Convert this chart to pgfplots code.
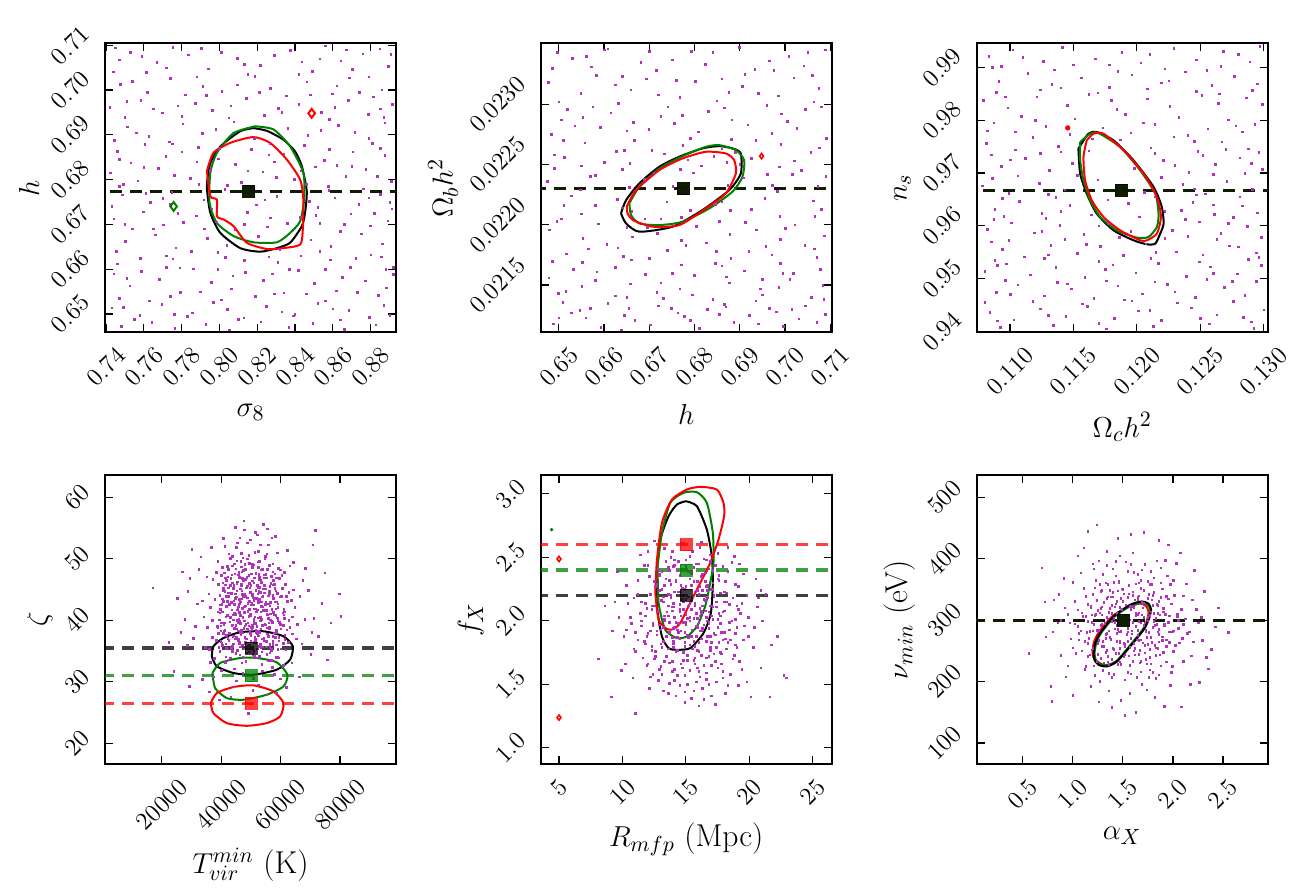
\documentclass[border=0pt]{standalone}
\usepackage{pgfplots}
\pgfplotsset{compat=1.18}
\usepackage{graphicx}
\definecolor{dotc}{RGB}{178,50,190}
\definecolor{mgreen}{RGB}{0,128,0}
\newcommand{\tlfont}{\fontsize{12.3}{14.8}\selectfont}
\protected\def\R#1{\rotatebox{45}{\tlfont #1}}
\pgfplotsset{
 panel/.style={
   scale only axis, width=145.5pt, height=144.4pt, anchor=south west,
   axis line style={line width=1pt},
   tick align=inside, major tick length=4pt,
   every tick/.style={black, line width=0.6pt},
   scaled ticks=false,
   xticklabel style={anchor=north, inner sep=0pt, yshift=-6.5pt, font=\tlfont},
   yticklabel style={anchor=east, inner sep=0pt, xshift=-6.5pt, font=\tlfont},
   xlabel style={font=\fontsize{15.8}{19}\selectfont, inner sep=0pt, outer sep=0pt, yshift=-8pt},
   ylabel style={font=\fontsize{15.8}{19}\selectfont, inner sep=0pt, outer sep=5pt},
 },
 dots/.style={only marks, mark=square*, mark size=0.4pt, color=dotc, mark options={line width=0.2pt}},
 cont/.style={line width=1pt, mark=none, smooth, tension=0.4},
 fid/.style={dash pattern=on 6pt off 4pt, line width=1.6pt, opacity=0.75, mark=none},
 sq/.style={only marks, mark=square*, mark size=3pt, opacity=0.75, mark options={line width=0.3pt}},
}
\begin{document}
\begin{tikzpicture}
\useasboundingbox (0,0) rectangle (654pt,444.5pt);
% ---------------- Panel 1 ----------------
\begin{axis}[panel, at={(52.5pt,278.35pt)},
  xmin=0.7395, xmax=0.8934, ymin=0.6459, ymax=0.7104,
  xtick={0.74,0.76,0.78,0.80,0.82,0.84,0.86,0.88},
  xticklabels={\R{0.74},\R{0.76},\R{0.78},\R{0.80},\R{0.82},\R{0.84},\R{0.86},\R{0.88}},
  ytick={0.65,0.66,0.67,0.68,0.69,0.70,0.71},
  yticklabels={\R{0.65},\R{0.66},\R{0.67},\R{0.68},\R{0.69},\R{0.70},\R{0.71}},
  xlabel={$\sigma_8$}, ylabel={$h$}]
\addplot[dots] table[row sep=\\] {x y\\
0.7437 0.7041\\ 0.7528 0.7085\\ 0.7669 0.7062\\ 0.7834 0.7079\\ 0.7941 0.7048\\ 0.8093 0.7071\\ 0.8217 0.7055\\ 0.8376 0.7089\\ 0.8492 0.7042\\ 0.8641 0.7066\\ 0.8758 0.7081\\ 0.8893 0.7053\\ 0.7752 0.7096\\ 0.8561 0.7099\\
0.7476 0.7013\\ 0.7618 0.6995\\ 0.7739 0.7026\\ 0.7911 0.7008\\ 0.8012 0.6998\\ 0.8187 0.7031\\ 0.8269 0.7004\\ 0.8461 0.7019\\ 0.8597 0.6992\\ 0.8688 0.7028\\ 0.8859 0.7001\\
0.7419 0.6962\\ 0.7583 0.6978\\ 0.7697 0.6949\\ 0.7872 0.6971\\ 0.7963 0.6955\\ 0.8141 0.6982\\ 0.8238 0.6944\\ 0.8419 0.6968\\ 0.8539 0.6951\\ 0.8682 0.6977\\ 0.8788 0.6946\\ 0.8914 0.6969\\
0.7511 0.6918\\ 0.7627 0.6897\\ 0.7806 0.6925\\ 0.7908 0.6904\\ 0.8075 0.6929\\ 0.8183 0.6893\\ 0.8362 0.6915\\ 0.8468 0.6899\\ 0.8627 0.6922\\ 0.8716 0.6906\\ 0.8874 0.6927\\ 0.7445 0.6888\\
0.7458 0.6864\\ 0.7604 0.6879\\ 0.7716 0.6852\\ 0.7889 0.6873\\ 0.7993 0.6847\\ 0.8168 0.6868\\ 0.8261 0.6856\\ 0.8447 0.6877\\ 0.8553 0.6843\\ 0.8704 0.6862\\ 0.8807 0.6881\\
0.7424 0.6815\\ 0.7568 0.6798\\ 0.7677 0.6826\\ 0.7846 0.6803\\ 0.7952 0.6821\\ 0.8114 0.6794\\ 0.8228 0.6818\\ 0.8397 0.6801\\ 0.8508 0.6829\\ 0.8667 0.6808\\ 0.8773 0.6823\\ 0.8908 0.6796\\
0.7487 0.6766\\ 0.7634 0.6749\\ 0.7748 0.6772\\ 0.7917 0.6755\\ 0.8027 0.6778\\ 0.8196 0.6744\\ 0.8303 0.6763\\ 0.8474 0.6752\\ 0.8578 0.6776\\ 0.8737 0.6745\\ 0.8851 0.6768\\
0.7442 0.6713\\ 0.7596 0.6728\\ 0.7704 0.6699\\ 0.7878 0.6719\\ 0.7984 0.6706\\ 0.8147 0.6727\\ 0.8254 0.6695\\ 0.8428 0.6716\\ 0.8531 0.6702\\ 0.8694 0.6724\\ 0.8796 0.6697\\ 0.8912 0.6735\\
0.7503 0.6662\\ 0.7661 0.6677\\ 0.7768 0.6648\\ 0.7934 0.6669\\ 0.8038 0.6653\\ 0.8205 0.6674\\ 0.8318 0.6645\\ 0.8482 0.6666\\ 0.8588 0.6651\\ 0.8751 0.6679\\ 0.8862 0.6657\\
0.7459 0.6612\\ 0.7587 0.6596\\ 0.7752 0.6623\\ 0.7863 0.6601\\ 0.8031 0.6627\\ 0.8137 0.6593\\ 0.8309 0.6615\\ 0.8418 0.6598\\ 0.8586 0.6621\\ 0.8693 0.6605\\ 0.8857 0.6628\\ 0.8918 0.6589\\
0.7526 0.6563\\ 0.7683 0.6578\\ 0.7792 0.6549\\ 0.7958 0.6571\\ 0.8064 0.6556\\ 0.8233 0.6575\\ 0.8341 0.6547\\ 0.8502 0.6568\\ 0.8617 0.6552\\ 0.8772 0.6574\\ 0.8881 0.6559\\
0.7431 0.6514\\ 0.7579 0.6497\\ 0.7694 0.6522\\ 0.7857 0.6503\\ 0.7966 0.6526\\ 0.8128 0.6492\\ 0.8247 0.6517\\ 0.8399 0.6499\\ 0.8519 0.6524\\ 0.8683 0.6508\\ 0.8791 0.6493\\
0.7482 0.6472\\ 0.7641 0.6481\\ 0.7763 0.6468\\ 0.7927 0.6477\\ 0.8052 0.6465\\ 0.8219 0.6483\\ 0.8366 0.6470\\ 0.8493 0.6479\\ 0.8659 0.6466\\ 0.8827 0.6476\\
0.7470 0.7068\\ 0.7612 0.7040\\ 0.7905 0.7093\\ 0.8150 0.7035\\ 0.8435 0.7063\\ 0.8702 0.7047\\ 0.8847 0.7092\\
0.7540 0.7020\\ 0.7820 0.6990\\ 0.8093 0.7012\\ 0.8352 0.6987\\ 0.8620 0.7010\\ 0.8812 0.6985\\
0.7500 0.6940\\ 0.7780 0.6965\\ 0.8050 0.6938\\ 0.8310 0.6960\\ 0.8580 0.6935\\ 0.8850 0.6958\\
0.7560 0.6905\\ 0.7734 0.6885\\ 0.7980 0.6912\\ 0.8265 0.6880\\ 0.8535 0.6910\\ 0.8790 0.6892\\
0.7530 0.6838\\ 0.7800 0.6862\\ 0.8083 0.6835\\ 0.8340 0.6858\\ 0.8620 0.6832\\ 0.8875 0.6855\\
0.7490 0.6790\\ 0.7760 0.6810\\ 0.8040 0.6788\\ 0.8300 0.6806\\ 0.8575 0.6785\\ 0.8835 0.6808\\
0.7430 0.6740\\ 0.7700 0.6758\\ 0.7960 0.6735\\ 0.8240 0.6755\\ 0.8520 0.6738\\ 0.8790 0.6760\\
0.7540 0.6690\\ 0.7810 0.6705\\ 0.8080 0.6688\\ 0.8360 0.6703\\ 0.8640 0.6685\\ 0.8890 0.6708\\
0.7455 0.6640\\ 0.7720 0.6630\\ 0.7990 0.6638\\ 0.8260 0.6628\\ 0.8530 0.6640\\ 0.8800 0.6632\\
0.7510 0.6580\\ 0.7790 0.6603\\ 0.8070 0.6585\\ 0.8370 0.6600\\ 0.8650 0.6582\\ 0.8920 0.6605\\
0.7470 0.6535\\ 0.7740 0.6540\\ 0.8010 0.6532\\ 0.8290 0.6545\\ 0.8560 0.6530\\ 0.8840 0.6542\\
0.7550 0.6488\\ 0.7830 0.6495\\ 0.8100 0.6488\\ 0.8390 0.6496\\ 0.8640 0.6487\\ 0.8900 0.6497\\
0.7450 0.7095\\ 0.7590 0.7075\\ 0.7720 0.7050\\ 0.7880 0.7030\\ 0.8010 0.7085\\ 0.8130 0.7058\\ 0.8290 0.7078\\ 0.8420 0.7035\\ 0.8530 0.7070\\ 0.8670 0.7090\\ 0.8790 0.7030\\ 0.8905 0.7080\\
0.7510 0.6975\\ 0.7650 0.6958\\ 0.7800 0.6942\\ 0.7930 0.6988\\ 0.8060 0.6965\\ 0.8210 0.6995\\ 0.8330 0.6950\\ 0.8480 0.6990\\ 0.8610 0.6962\\ 0.8740 0.6995\\ 0.8870 0.6940\\
0.7470 0.6845\\ 0.7600 0.6828\\ 0.7750 0.6880\\ 0.7880 0.6840\\ 0.8000 0.6870\\ 0.8150 0.6820\\ 0.8290 0.6840\\ 0.8430 0.6820\\ 0.8580 0.6868\\ 0.8700 0.6830\\ 0.8850 0.6870\\
0.7470 0.6785\\ 0.7610 0.6770\\ 0.7740 0.6745\\ 0.7890 0.6790\\ 0.8460 0.6790\\ 0.8610 0.6760\\ 0.8760 0.6780\\ 0.8900 0.6750\\
0.7500 0.6700\\ 0.7650 0.6690\\ 0.7780 0.6725\\ 0.7920 0.6690\\ 0.8130 0.6700\\ 0.8270 0.6715\\ 0.8510 0.6720\\ 0.8660 0.6700\\ 0.8820 0.6725\\
0.7440 0.6590\\ 0.7580 0.6625\\ 0.7720 0.6605\\ 0.7850 0.6640\\ 0.7990 0.6600\\ 0.8130 0.6620\\ 0.8280 0.6590\\ 0.8430 0.6630\\ 0.8560 0.6600\\ 0.8720 0.6625\\ 0.8880 0.6600\\
0.7490 0.6515\\ 0.7630 0.6530\\ 0.7760 0.6500\\ 0.7900 0.6550\\ 0.8040 0.6510\\ 0.8190 0.6540\\ 0.8330 0.6505\\ 0.8460 0.6545\\ 0.8600 0.6512\\ 0.8730 0.6548\\ 0.8870 0.6520\\
};
\addplot[fid, red] coordinates {(0.70,0.6774) (0.90,0.6774)};
\addplot[fid, mgreen] coordinates {(0.70,0.6774) (0.90,0.6774)};
\addplot[fid, black] coordinates {(0.70,0.6774) (0.90,0.6774)};
\addplot[cont, black] coordinates {(0.8180,0.6915)(0.8251,0.6909)(0.8339,0.6889)(0.8400,0.6863)(0.8436,0.6830)(0.8462,0.6774)(0.8453,0.6726)(0.8436,0.6696)(0.8374,0.6659)(0.8304,0.6647)(0.8216,0.6639)(0.8110,0.6647)(0.8005,0.6681)(0.7952,0.6726)(0.7934,0.6785)(0.7952,0.6837)(0.8005,0.6874)(0.8110,0.6908)(0.8180,0.6915)};
\addplot[cont, mgreen] coordinates {(0.8189,0.6919)(0.8286,0.6912)(0.8374,0.6874)(0.8444,0.6815)(0.8448,0.6755)(0.8427,0.6707)(0.8374,0.6681)(0.8304,0.6660)(0.8180,0.6660)(0.8075,0.6674)(0.7987,0.6703)(0.7948,0.6748)(0.7952,0.6815)(0.7987,0.6860)(0.8075,0.6904)(0.8189,0.6919)};
\addplot[cont, red] coordinates {(0.7934,0.6819)(0.7969,0.6860)(0.8057,0.6882)(0.8180,0.6895)(0.8268,0.6882)(0.8356,0.6845)(0.8427,0.6800)(0.8444,0.6755)(0.8441,0.6688)(0.8427,0.6655)(0.8339,0.6647)(0.8251,0.6645)(0.8145,0.6659)(0.8075,0.6696)(0.8022,0.6711)(0.7987,0.6718)(0.7987,0.6755)(0.7952,0.6763)(0.7934,0.6819)};
\addplot[sq, red] coordinates {(0.8154,0.6774)};
\addplot[sq, mgreen] coordinates {(0.8154,0.6774)};
\addplot[sq, black] coordinates {(0.8154,0.6774)};
\addplot[only marks, mark=diamond, mark size=2.2pt, red, mark options={line width=1pt}] coordinates {(0.8488,0.6948)};
\addplot[only marks, mark=diamond, mark size=2.2pt, mgreen, mark options={line width=1pt}] coordinates {(0.7758,0.6740)};
\end{axis}
% ---------------- Panel 2 ----------------
\begin{axis}[panel, at={(270.35pt,278.35pt)},
  xmin=0.6460, xmax=0.7103, ymin=0.021108, ymax=0.023503,
  xtick={0.65,0.66,0.67,0.68,0.69,0.70,0.71},
  xticklabels={\R{0.65},\R{0.66},\R{0.67},\R{0.68},\R{0.69},\R{0.70},\R{0.71}},
  ytick={0.0215,0.0220,0.0225,0.0230},
  yticklabels={\R{0.0215},\R{0.0220},\R{0.0225},\R{0.0230}},
  xlabel={$h$}, ylabel={$\Omega_b h^2$}]
\addplot[dots] table[row sep=\\] {x y\\
0.6496 0.02343\\ 0.6572 0.02331\\ 0.6608 0.02346\\ 0.6681 0.02335\\ 0.6715 0.02328\\ 0.6793 0.02344\\ 0.6824 0.02333\\ 0.6899 0.02347\\ 0.6933 0.02329\\ 0.7008 0.02340\\ 0.7041 0.02332\\ 0.7088 0.02345\\
0.6477 0.02318\\ 0.6548 0.02309\\ 0.6583 0.02324\\ 0.6659 0.02312\\ 0.6693 0.02321\\ 0.6767 0.02306\\ 0.6801 0.02319\\ 0.6875 0.02310\\ 0.6911 0.02325\\ 0.6985 0.02307\\ 0.7019 0.02322\\ 0.7074 0.02313\\
0.6518 0.02296\\ 0.6553 0.02289\\ 0.6631 0.02301\\ 0.6664 0.02285\\ 0.6741 0.02298\\ 0.6773 0.02291\\ 0.6849 0.02303\\ 0.6882 0.02287\\ 0.6959 0.02299\\ 0.6991 0.02292\\ 0.7063 0.02302\\
0.6483 0.02275\\ 0.6557 0.02268\\ 0.6592 0.02281\\ 0.6666 0.02270\\ 0.6699 0.02279\\ 0.6774 0.02266\\ 0.6808 0.02277\\ 0.6881 0.02271\\ 0.6917 0.02283\\ 0.6990 0.02267\\ 0.7026 0.02280\\ 0.7091 0.02272\\
0.6512 0.02256\\ 0.6549 0.02249\\ 0.6627 0.02261\\ 0.6657 0.02251\\ 0.6733 0.02259\\ 0.6768 0.02246\\ 0.6842 0.02257\\ 0.6871 0.02252\\ 0.6987 0.02248\\ 0.7057 0.02260\\
0.6475 0.02236\\ 0.6547 0.02229\\ 0.6581 0.02241\\ 0.6656 0.02231\\ 0.6689 0.02238\\ 0.6766 0.02227\\ 0.6797 0.02243\\ 0.6873 0.02233\\ 0.6908 0.02239\\ 0.6983 0.02228\\ 0.7016 0.02242\\ 0.7072 0.02232\\
0.6511 0.02216\\ 0.6550 0.02209\\ 0.6629 0.02221\\ 0.6661 0.02211\\ 0.6738 0.02219\\ 0.6770 0.02206\\ 0.6846 0.02217\\ 0.6879 0.02212\\ 0.6955 0.02222\\ 0.6988 0.02207\\ 0.7062 0.02220\\
0.6479 0.02196\\ 0.6553 0.02189\\ 0.6587 0.02201\\ 0.6662 0.02190\\ 0.6695 0.02198\\ 0.6771 0.02187\\ 0.6803 0.02199\\ 0.6878 0.02192\\ 0.6912 0.02202\\ 0.6989 0.02188\\ 0.7021 0.02200\\ 0.7087 0.02191\\
0.6516 0.02176\\ 0.6552 0.02169\\ 0.6630 0.02181\\ 0.6660 0.02171\\ 0.6739 0.02179\\ 0.6771 0.02167\\ 0.6848 0.02178\\ 0.6880 0.02172\\ 0.6957 0.02182\\ 0.6989 0.02168\\ 0.7064 0.02180\\
0.6478 0.02156\\ 0.6551 0.02149\\ 0.6584 0.02161\\ 0.6658 0.02151\\ 0.6691 0.02159\\ 0.6767 0.02147\\ 0.6799 0.02158\\ 0.6876 0.02152\\ 0.6910 0.02162\\ 0.6986 0.02148\\ 0.7018 0.02160\\ 0.7083 0.02150\\
0.6509 0.02136\\ 0.6546 0.02129\\ 0.6624 0.02141\\ 0.6654 0.02131\\ 0.6731 0.02139\\ 0.6763 0.02127\\ 0.6840 0.02138\\ 0.6869 0.02132\\ 0.6949 0.02142\\ 0.6981 0.02128\\ 0.7058 0.02140\\
0.6488 0.02118\\ 0.6559 0.02123\\ 0.6593 0.02115\\ 0.6668 0.02121\\ 0.6702 0.02117\\ 0.6777 0.02124\\ 0.6810 0.02114\\ 0.6886 0.02119\\ 0.6921 0.02125\\ 0.6996 0.02116\\ 0.7030 0.02122\\
0.6530 0.02338\\ 0.6640 0.02323\\ 0.6750 0.02337\\ 0.6860 0.02321\\ 0.6965 0.02336\\ 0.7060 0.02324\\
0.6500 0.02302\\ 0.6615 0.02293\\ 0.6720 0.02308\\ 0.6830 0.02294\\ 0.6940 0.02309\\ 0.7045 0.02296\\
0.6535 0.02282\\ 0.6645 0.02262\\ 0.6755 0.02284\\ 0.6860 0.02263\\ 0.6970 0.02276\\ 0.7075 0.02264\\
0.6490 0.02247\\ 0.6600 0.02252\\ 0.6710 0.02243\\ 0.6815 0.02249\\ 0.6925 0.02255\\ 0.7035 0.02245\\
0.6528 0.02224\\ 0.6640 0.02214\\ 0.6752 0.02232\\ 0.6860 0.02219\\ 0.6972 0.02233\\ 0.7080 0.02213\\
0.6495 0.02203\\ 0.6606 0.02184\\ 0.6718 0.02193\\ 0.6826 0.02185\\ 0.6936 0.02196\\ 0.7043 0.02183\\
0.6532 0.02163\\ 0.6642 0.02174\\ 0.6750 0.02160\\ 0.6860 0.02166\\ 0.6970 0.02175\\ 0.7078 0.02163\\
0.6498 0.02143\\ 0.6608 0.02135\\ 0.6716 0.02144\\ 0.6828 0.02130\\ 0.6935 0.02137\\ 0.7044 0.02133\\
0.6527 0.02127\\ 0.6638 0.02113\\ 0.6748 0.02131\\ 0.6855 0.02126\\ 0.6965 0.02131\\ 0.7070 0.02119\\
0.6510 0.02270\\ 0.6690 0.02205\\ 0.6900 0.02250\\ 0.6600 0.02345\\ 0.6950 0.02155\\
0.6485 0.02330\\ 0.6560 0.02340\\ 0.6625 0.02316\\ 0.6700 0.02344\\ 0.6760 0.02320\\ 0.6840 0.02343\\ 0.6905 0.02315\\ 0.6975 0.02328\\ 0.7050 0.02343\\
0.6505 0.02287\\ 0.6575 0.02298\\ 0.6650 0.02278\\ 0.6725 0.02290\\ 0.6790 0.02272\\ 0.6865 0.02297\\ 0.6935 0.02270\\ 0.7005 0.02286\\ 0.7080 0.02298\\
0.6490 0.02258\\ 0.6570 0.02240\\ 0.6640 0.02246\\ 0.6705 0.02262\\ 0.6785 0.02254\\ 0.6890 0.02260\\ 0.6960 0.02242\\ 0.7020 0.02253\\ 0.7090 0.02240\\
0.6505 0.02205\\ 0.6580 0.02216\\ 0.6650 0.02198\\ 0.6725 0.02205\\ 0.6790 0.02212\\ 0.6855 0.02203\\ 0.6925 0.02213\\ 0.7000 0.02197\\ 0.7065 0.02207\\
0.6485 0.02170\\ 0.6565 0.02180\\ 0.6625 0.02165\\ 0.6700 0.02172\\ 0.6780 0.02183\\ 0.6845 0.02168\\ 0.6920 0.02178\\ 0.6995 0.02160\\ 0.7070 0.02173\\
0.6515 0.02145\\ 0.6580 0.02154\\ 0.6650 0.02140\\ 0.6725 0.02152\\ 0.6795 0.02142\\ 0.6870 0.02157\\ 0.6945 0.02147\\ 0.7010 0.02155\\ 0.7085 0.02138\\
0.6500 0.02123\\ 0.6570 0.02131\\ 0.6645 0.02125\\ 0.6720 0.02133\\ 0.6790 0.02121\\ 0.6865 0.02134\\ 0.6940 0.02118\\ 0.7015 0.02130\\ 0.7088 0.02126\\
};
\addplot[fid, red] coordinates {(0.64,0.02230) (0.72,0.02230)};
\addplot[fid, mgreen] coordinates {(0.64,0.02230) (0.72,0.02230)};
\addplot[fid, black] coordinates {(0.64,0.02230) (0.72,0.02230)};
\addplot[cont, black] coordinates {(0.66375,0.022094)(0.66486,0.022011)(0.66780,0.021942)(0.67515,0.021984)(0.68176,0.022122)(0.68764,0.022287)(0.69021,0.022425)(0.69021,0.022591)(0.68838,0.022633)(0.68544,0.022652)(0.68176,0.022633)(0.67662,0.022564)(0.67221,0.022481)(0.66780,0.022343)(0.66486,0.022204)(0.66375,0.022094)};
\addplot[cont, mgreen] coordinates {(0.66559,0.022177)(0.66780,0.022315)(0.67221,0.022467)(0.67735,0.022569)(0.68250,0.022646)(0.68544,0.022660)(0.68911,0.022619)(0.69095,0.022536)(0.69058,0.022398)(0.68838,0.022274)(0.68323,0.022135)(0.67735,0.022025)(0.67221,0.021997)(0.66780,0.022011)(0.66596,0.022080)(0.66559,0.022177)};
\addplot[cont, red] coordinates {(0.66500,0.022149)(0.66706,0.022287)(0.67221,0.022453)(0.67735,0.022550)(0.68250,0.022605)(0.68691,0.022591)(0.68874,0.022536)(0.68911,0.022425)(0.68691,0.022260)(0.68250,0.022135)(0.67662,0.021997)(0.67074,0.021984)(0.66633,0.022039)(0.66522,0.022094)(0.66500,0.022149)};
\addplot[sq, red] coordinates {(0.6774,0.02230)};
\addplot[sq, mgreen] coordinates {(0.6774,0.02230)};
\addplot[sq, black] coordinates {(0.6774,0.02230)};
\addplot[only marks, mark=diamond, mark size=1.3pt, red, mark options={line width=0.8pt}] coordinates {(0.6948,0.022569)};
\end{axis}
% ---------------- Panel 3 ----------------
\begin{axis}[panel, at={(488.35pt,278.35pt)},
  xmin=0.10737, xmax=0.13032, ymin=0.9398, ymax=0.99455,
  xtick={0.110,0.115,0.120,0.125,0.130},
  xticklabels={\R{0.110},\R{0.115},\R{0.120},\R{0.125},\R{0.130}},
  ytick={0.94,0.95,0.96,0.97,0.98,0.99},
  yticklabels={\R{0.94},\R{0.95},\R{0.96},\R{0.97},\R{0.98},\R{0.99}},
  xlabel={$\Omega_c h^2$}, ylabel={$n_s$}]
\addplot[dots] table[row sep=\\] {x y\\
0.1083 0.9921\\ 0.1102 0.9934\\ 0.1126 0.9912\\ 0.1141 0.9938\\ 0.1167 0.9917\\ 0.1188 0.9929\\ 0.1203 0.9909\\ 0.1229 0.9936\\ 0.1247 0.9915\\ 0.1268 0.9931\\ 0.1289 0.9911\\ 0.1297 0.9940\\
0.1091 0.9874\\ 0.1114 0.9889\\ 0.1133 0.9868\\ 0.1156 0.9881\\ 0.1178 0.9863\\ 0.1196 0.9886\\ 0.1219 0.9871\\ 0.1238 0.9892\\ 0.1259 0.9866\\ 0.1277 0.9883\\ 0.1295 0.9869\\
0.1079 0.9838\\ 0.1098 0.9824\\ 0.1121 0.9845\\ 0.1145 0.9829\\ 0.1162 0.9849\\ 0.1184 0.9821\\ 0.1208 0.9841\\ 0.1226 0.9827\\ 0.1251 0.9847\\ 0.1264 0.9832\\ 0.1286 0.9843\\
0.1087 0.9795\\ 0.1109 0.9808\\ 0.1128 0.9789\\ 0.1151 0.9803\\ 0.1173 0.9786\\ 0.1191 0.9811\\ 0.1214 0.9792\\ 0.1233 0.9806\\ 0.1256 0.9784\\ 0.1272 0.9801\\ 0.1293 0.9793\\
0.1081 0.9757\\ 0.1104 0.9744\\ 0.1118 0.9768\\ 0.1138 0.9751\\ 0.1187 0.9763\\ 0.1211 0.9748\\ 0.1229 0.9769\\ 0.1248 0.9741\\ 0.1267 0.9759\\ 0.1288 0.9746\\
0.1093 0.9713\\ 0.1112 0.9728\\ 0.1131 0.9705\\ 0.1149 0.9719\\ 0.1198 0.9709\\ 0.1221 0.9724\\ 0.1241 0.9702\\ 0.1262 0.9717\\ 0.1281 0.9729\\ 0.1299 0.9707\\
0.1078 0.9676\\ 0.1099 0.9662\\ 0.1123 0.9681\\ 0.1143 0.9668\\ 0.1169 0.9687\\ 0.1206 0.9664\\ 0.1236 0.9679\\ 0.1254 0.9661\\ 0.1271 0.9684\\ 0.1291 0.9669\\
0.1088 0.9631\\ 0.1107 0.9647\\ 0.1125 0.9624\\ 0.1147 0.9639\\ 0.1164 0.9621\\ 0.1193 0.9643\\ 0.1222 0.9628\\ 0.1244 0.9645\\ 0.1261 0.9622\\ 0.1283 0.9638\\
0.1082 0.9593\\ 0.1101 0.9606\\ 0.1119 0.9587\\ 0.1139 0.9601\\ 0.1158 0.9584\\ 0.1177 0.9605\\ 0.1228 0.9591\\ 0.1249 0.9608\\ 0.1266 0.9586\\ 0.1287 0.9599\\
0.1094 0.9556\\ 0.1111 0.9541\\ 0.1132 0.9563\\ 0.1153 0.9548\\ 0.1171 0.9561\\ 0.1189 0.9544\\ 0.1207 0.9566\\ 0.1231 0.9551\\ 0.1252 0.9545\\ 0.1273 0.9562\\ 0.1294 0.9549\\
0.1080 0.9514\\ 0.1097 0.9528\\ 0.1116 0.9507\\ 0.1136 0.9521\\ 0.1159 0.9503\\ 0.1181 0.9526\\ 0.1199 0.9511\\ 0.1217 0.9529\\ 0.1239 0.9504\\ 0.1258 0.9522\\ 0.1279 0.9509\\ 0.1298 0.9525\\
0.1089 0.9474\\ 0.1106 0.9488\\ 0.1127 0.9467\\ 0.1148 0.9481\\ 0.1166 0.9463\\ 0.1185 0.9486\\ 0.1204 0.9471\\ 0.1224 0.9489\\ 0.1246 0.9465\\ 0.1269 0.9483\\ 0.1285 0.9468\\
0.1084 0.9436\\ 0.1103 0.9422\\ 0.1124 0.9443\\ 0.1144 0.9428\\ 0.1161 0.9447\\ 0.1182 0.9425\\ 0.1201 0.9439\\ 0.1219 0.9421\\ 0.1243 0.9445\\ 0.1263 0.9431\\ 0.1284 0.9427\\ 0.1300 0.9441\\
0.1092 0.9408\\ 0.1134 0.9412\\ 0.1176 0.9405\\ 0.1213 0.9409\\ 0.1257 0.9414\\ 0.1292 0.9406\\
0.1093 0.9903\\ 0.1135 0.9896\\ 0.1178 0.9905\\ 0.1222 0.9898\\ 0.1266 0.9902\\
0.1089 0.9853\\ 0.1124 0.9858\\ 0.1169 0.9852\\ 0.1208 0.9860\\ 0.1247 0.9855\\ 0.1291 0.9857\\
0.1104 0.9778\\ 0.1147 0.9774\\ 0.1195 0.9776\\ 0.1240 0.9772\\ 0.1283 0.9778\\
0.1085 0.9735\\ 0.1124 0.9738\\ 0.1162 0.9742\\ 0.1214 0.9737\\ 0.1252 0.9734\\ 0.1296 0.9739\\
0.1106 0.9695\\ 0.1153 0.9696\\ 0.1219 0.9692\\ 0.1260 0.9698\\ 0.1281 0.9655\\
0.1094 0.9652\\ 0.1136 0.9654\\ 0.1177 0.9649\\ 0.1214 0.9655\\ 0.1247 0.9659\\
0.1087 0.9612\\ 0.1128 0.9614\\ 0.1202 0.9617\\ 0.1238 0.9612\\ 0.1276 0.9616\\
0.1099 0.9573\\ 0.1143 0.9575\\ 0.1186 0.9578\\ 0.1222 0.9576\\ 0.1263 0.9574\\ 0.1298 0.9578\\
0.1088 0.9535\\ 0.1127 0.9539\\ 0.1170 0.9533\\ 0.1211 0.9538\\ 0.1249 0.9532\\ 0.1288 0.9536\\
0.1096 0.9497\\ 0.1137 0.9493\\ 0.1176 0.9496\\ 0.1214 0.9494\\ 0.1255 0.9499\\ 0.1294 0.9495\\
0.1080 0.9455\\ 0.1118 0.9457\\ 0.1157 0.9452\\ 0.1196 0.9458\\ 0.1232 0.9454\\ 0.1276 0.9457\\
0.1086 0.9900\\ 0.1110 0.9920\\ 0.1150 0.9905\\ 0.1185 0.9893\\ 0.1210 0.9925\\ 0.1255 0.9895\\ 0.1280 0.9925\\
0.1096 0.9845\\ 0.1140 0.9862\\ 0.1180 0.9838\\ 0.1225 0.9875\\ 0.1265 0.9850\\ 0.1299 0.9830\\
0.1082 0.9780\\ 0.1120 0.9800\\ 0.1165 0.9765\\ 0.1205 0.9795\\ 0.1245 0.9760\\ 0.1278 0.9790\\
0.1100 0.9725\\ 0.1140 0.9740\\ 0.1230 0.9715\\ 0.1270 0.9745\\ 0.1290 0.9718\\
0.1086 0.9690\\ 0.1130 0.9660\\ 0.1245 0.9670\\ 0.1285 0.9700\\ 0.1260 0.9640\\
0.1095 0.9618\\ 0.1140 0.9628\\ 0.1170 0.9600\\ 0.1235 0.9630\\ 0.1272 0.9605\\ 0.1295 0.9625\\
0.1085 0.9570\\ 0.1125 0.9590\\ 0.1160 0.9565\\ 0.1195 0.9590\\ 0.1240 0.9580\\ 0.1280 0.9560\\
0.1090 0.9525\\ 0.1130 0.9545\\ 0.1175 0.9518\\ 0.1215 0.9550\\ 0.1260 0.9510\\ 0.1296 0.9540\\
0.1100 0.9470\\ 0.1145 0.9490\\ 0.1190 0.9460\\ 0.1230 0.9475\\ 0.1275 0.9495\\
0.1090 0.9420\\ 0.1130 0.9430\\ 0.1170 0.9415\\ 0.1210 0.9440\\ 0.1250 0.9425\\ 0.1290 0.9418\\
};
\addplot[fid, red] coordinates {(0.10,0.96672) (0.14,0.96672)};
\addplot[fid, mgreen] coordinates {(0.10,0.96672) (0.14,0.96672)};
\addplot[fid, black] coordinates {(0.10,0.96672) (0.14,0.96672)};
\addplot[cont, black] coordinates {(0.11539,0.97461)(0.11618,0.97745)(0.11684,0.97777)(0.11816,0.97619)(0.11974,0.97240)(0.12132,0.96735)(0.12197,0.96356)(0.12211,0.96040)(0.12184,0.95850)(0.12145,0.95661)(0.12079,0.95648)(0.11974,0.95724)(0.11816,0.95913)(0.11684,0.96229)(0.11605,0.96608)(0.11553,0.96987)(0.11539,0.97461)};
\addplot[cont, mgreen] coordinates {(0.11553,0.97587)(0.11632,0.97745)(0.11697,0.97758)(0.11868,0.97493)(0.12026,0.97051)(0.12145,0.96608)(0.12171,0.96229)(0.12158,0.95977)(0.12092,0.95787)(0.12000,0.95775)(0.11842,0.95913)(0.11711,0.96166)(0.11632,0.96482)(0.11579,0.96861)(0.11553,0.97240)(0.11553,0.97587)};
\addplot[cont, red] coordinates {(0.11605,0.97619)(0.11658,0.97745)(0.11737,0.97745)(0.11895,0.97430)(0.12053,0.96987)(0.12158,0.96545)(0.12190,0.96166)(0.12158,0.95850)(0.12079,0.95724)(0.12026,0.95724)(0.11868,0.95913)(0.11737,0.96166)(0.11645,0.96482)(0.11592,0.96861)(0.11579,0.97303)(0.11605,0.97619)};
\addplot[sq, red] coordinates {(0.11876,0.96672)};
\addplot[sq, mgreen] coordinates {(0.11876,0.96672)};
\addplot[sq, black] coordinates {(0.11876,0.96672)};
\addplot[only marks, mark=*, mark size=1.1pt, red] coordinates {(0.11455,0.97855)};
\end{axis}
% ---------------- Panel 4 ----------------
\begin{axis}[panel, at={(52.5pt,62.5pt)},
  xmin=931, xmax=98845, ymin=16.64, ymax=63.58,
  xtick={20000,40000,60000,80000},
  xticklabels={\R{20000},\R{40000},\R{60000},\R{80000}},
  ytick={20,30,40,50,60},
  yticklabels={\R{20},\R{30},\R{40},\R{50},\R{60}},
  xlabel={$T_{vir}^{min}$ (K)}, ylabel={$\zeta$}]
\addplot[dots] table[row sep=\\] {x y\\
41200 38.4\\ 43500 41.7\\ 45800 36.9\\ 47100 44.2\\ 48900 39.6\\ 50300 42.8\\ 52400 37.5\\ 54100 45.1\\ 55800 40.3\\ 57600 43.6\\ 58700 38.1\\ 42300 45.3\\ 44100 36.2\\ 46400 40.8\\ 48200 46.7\\ 49700 37.9\\ 51600 44.9\\ 53300 41.4\\ 55100 36.6\\ 56900 47.2\\ 58300 41.9\\ 42800 42.6\\ 44900 39.2\\ 46900 47.9\\ 49100 35.8\\ 50900 40.1\\ 52700 47.5\\ 54600 39.4\\ 56300 36.1\\ 57900 45.9\\ 41700 43.9\\ 43900 37.4\\ 45300 44.8\\ 47600 38.7\\ 49400 43.1\\ 51200 36.4\\ 53800 43.8\\ 55500 48.3\\ 57200 39.8\\ 59100 42.2\\ 43100 40.5\\ 45600 42.1\\ 47800 41.3\\ 50100 38.9\\ 52100 41.7\\ 54300 37.1\\ 56600 42.9\\ 48600 34.7\\ 51900 33.9\\ 46200 34.4\\ 53600 34.9\\ 44600 47.6\\ 50600 48.8\\ 47300 50.2\\ 52900 49.6\\ 49900 45.7\\ 50500 39.3\\ 48100 42.4\\ 49300 40.7\\ 51400 41.9\\ 46700 43.5\\ 53100 39.9\\
34200 40.6\\ 35800 44.3\\ 36900 37.2\\ 38400 47.8\\ 39700 42.5\\ 37600 33.8\\ 39200 35.6\\ 35300 38.9\\ 38800 49.6\\ 40100 31.9\\ 61200 40.3\\ 62800 44.6\\ 63900 37.8\\ 60400 47.3\\ 64700 42.1\\ 61700 35.2\\ 63100 48.9\\ 65600 39.4\\ 60800 32.7\\ 62300 51.4\\ 42600 50.8\\ 45100 51.9\\ 48700 52.6\\ 51300 51.1\\ 54900 50.4\\ 57400 49.2\\ 44400 32.1\\ 47200 31.4\\ 50800 30.6\\ 53900 31.8\\ 56800 33.5\\ 41300 33.2\\ 58900 34.1\\ 40600 46.1\\ 59600 46.8\\ 36300 42.1\\ 63600 43.3\\ 39900 39.1\\ 60100 38.6\\ 37200 46.7\\ 62600 36.4\\ 43800 48.9\\ 55900 52.3\\ 46300 53.4\\ 52200 53.9\\ 41900 35.4\\ 57800 31.2\\
25300 43.6\\ 27800 40.2\\ 29400 46.8\\ 30600 37.1\\ 31900 42.7\\ 28600 35.9\\ 32400 48.3\\ 30100 51.6\\ 33700 30.4\\ 26400 38.1\\ 69400 44.9\\ 71200 40.3\\ 72600 37.4\\ 68300 48.5\\ 70800 52.3\\ 67100 36.2\\ 73900 42.8\\ 74800 47.7\\ 76900 39.6\\ 79800 44.3\\ 80200 40.7\\ 75600 33.6\\ 17000 45.3\\ 22400 36.4\\ 24100 31.7\\ 29200 29.3\\ 35900 28.4\\ 43200 27.6\\ 49200 24.9\\ 55400 27.9\\ 61900 29.1\\ 66300 30.8\\ 70200 34.5\\ 44800 55.1\\ 47600 56.2\\ 51500 54.3\\ 58200 53.7\\ 64200 49.4\\ 71600 54.6\\ 36700 51.9\\ 33100 50.3\\ 40800 53.3\\ 54200 55.6\\ 39300 27.1\\ 58600 28.2\\ 26900 47.9\\
45900 40.2\\ 47900 36.3\\ 49800 44.6\\ 51700 38.4\\ 53500 46.2\\ 44300 43.2\\ 46600 37.7\\ 48400 45.3\\ 50700 35.2\\ 52800 43.4\\ 54800 42.6\\ 56100 44.7\\ 42100 40.9\\ 58100 37.2\\ 49500 49.3\\ 51100 46.9\\ 47400 48.1\\ 53200 36.1\\ 45200 35.1\\ 55300 34.5\\
39500 41.2\\ 40700 44.8\\ 41800 37.6\\ 42900 39.8\\ 43700 46.1\\ 44800 41.0\\ 45700 38.3\\ 46800 45.6\\ 47700 39.9\\ 48800 43.7\\ 49600 38.2\\ 50400 46.4\\ 51300 40.6\\ 52300 44.3\\ 53300 38.6\\ 54200 41.6\\ 55200 46.9\\ 56200 38.9\\ 57300 44.1\\ 58400 40.8\\ 59400 36.7\\ 60300 43.9\\ 61300 41.4\\ 39100 37.9\\ 40300 48.6\\ 41500 42.3\\ 42500 36.8\\ 43400 44.4\\ 44500 38.7\\ 45500 46.3\\ 46500 39.5\\ 47500 43.9\\ 48500 37.0\\ 49500 41.8\\ 50500 44.0\\ 51500 36.9\\ 52500 42.9\\ 53500 40.2\\ 54500 47.4\\ 55500 37.8\\ 56500 41.1\\ 57500 46.5\\ 58500 43.0\\ 59500 39.7\\ 60500 45.2\\ 40900 39.3\\ 42200 47.1\\ 43300 35.5\\ 44200 45.7\\ 45100 37.3\\ 46100 42.7\\ 47100 36.0\\ 48100 48.4\\ 49000 41.5\\ 50000 36.7\\ 51000 43.3\\ 52000 39.0\\ 53000 45.4\\ 54000 35.7\\ 55000 43.0\\ 56000 39.6\\ 57000 35.3\\ 58000 47.6\\ 59000 40.0\\ 42000 43.1\\ 44000 40.1\\ 46000 47.0\\ 48000 39.1\\ 50200 47.6\\ 52200 35.4\\ 54400 44.5\\ 56400 45.5\\ 58600 36.0\\ 37800 43.4\\ 38600 39.0\\ 62100 38.5\\ 61600 45.9\\ 45300 49.7\\ 50900 49.0\\ 48300 33.3\\ 53700 32.9\\ 43000 33.9\\ 57100 32.4\\ 41100 47.7\\ 59800 48.2\\ 36000 35.3\\ 64300 45.0\\ 39000 45.9\\ 61000 41.8\\ 44700 43.6\\ 49400 46.0\\ 55600 40.9\\ 47000 42.0\\ 51800 38.0\\ 53900 42.2\\ 46000 36.5\\ 50500 42.5\\ 52600 46.7\\ 48700 38.6\\
42500 33.6\\ 46900 33.1\\ 51200 34.2\\ 55800 33.4\\ 59300 33.9\\ 40300 35.9\\ 43700 35.0\\ 46500 35.7\\ 49400 34.9\\ 52600 35.8\\ 56400 35.6\\ 60100 35.4\\
38400 36.8\\ 41600 36.2\\ 44700 37.0\\ 48100 36.4\\ 51300 37.2\\ 54300 36.7\\ 57400 37.4\\ 61400 36.9\\ 39800 38.3\\ 42700 37.9\\ 45300 38.6\\ 47300 38.0\\ 50300 38.5\\ 52900 38.1\\ 55600 38.8\\ 58500 38.4\\ 63100 38.9\\
37100 40.0\\ 41100 39.6\\ 43800 39.3\\ 46200 39.9\\ 48300 39.4\\ 50900 39.7\\ 53800 39.2\\ 56800 39.9\\ 59800 39.4\\ 62700 40.0\\ 38900 41.4\\ 42000 40.8\\ 44400 41.2\\ 47300 40.6\\ 49800 41.1\\ 52500 40.4\\ 55100 41.6\\ 57900 40.9\\ 60700 41.2\\ 64000 40.6\\
40200 42.6\\ 43300 42.9\\ 45900 42.3\\ 48900 42.8\\ 51000 42.5\\ 53400 43.0\\ 56300 42.4\\ 59000 42.7\\ 62200 43.1\\ 39500 44.1\\ 42400 44.5\\ 45000 43.8\\ 47800 44.3\\ 50800 43.7\\ 53100 44.6\\ 55900 44.0\\ 58800 44.4\\ 61800 43.9\\
41400 45.8\\ 44100 45.2\\ 46700 45.9\\ 49600 45.3\\ 52200 45.7\\ 54900 45.1\\ 57500 45.8\\ 60700 45.3\\ 40000 47.3\\ 43200 46.8\\ 45800 47.4\\ 48600 47.0\\ 51600 47.6\\ 54400 46.9\\ 57000 47.2\\ 61200 47.8\\
42100 48.8\\ 44900 48.4\\ 47900 49.1\\ 50400 48.6\\ 53500 48.2\\ 56100 48.9\\ 59300 48.5\\ 43700 50.4\\ 46800 50.9\\ 49300 50.6\\ 52400 51.2\\ 55400 50.8\\ 58900 51.0\\ 45500 52.6\\ 49800 53.1\\ 53200 52.3\\ 57000 53.4\\ 41200 52.0\\
33600 43.2\\ 31200 39.0\\ 35100 47.1\\ 34700 35.6\\ 66500 43.9\\ 65200 37.0\\ 68100 40.2\\ 67400 46.5\\ 37400 30.8\\ 45000 30.2\\ 52500 29.5\\ 59800 30.5\\ 28800 44.7\\ 70500 38.1\\ 47800 54.7\\ 55600 54.9\\ 44300 29.2\\ 50600 28.6\\ 63800 33.1\\ 36300 33.2\\
41500 34.1\\ 44900 34.6\\ 47200 34.0\\ 50600 34.5\\ 52800 34.2\\ 56300 34.7\\ 58400 34.0\\
39500 35.0\\ 41800 35.5\\ 45400 35.1\\ 47600 35.4\\ 51000 34.9\\ 53300 35.6\\ 56900 35.1\\ 59000 35.3\\
40200 36.3\\ 43700 35.8\\ 46000 36.2\\ 49500 35.9\\ 51700 36.4\\ 55200 35.7\\ 57400 36.1\\ 60900 36.3\\
39900 36.6\\ 42200 37.1\\ 45700 36.7\\ 47900 37.2\\ 51500 36.8\\ 53700 37.0\\ 57300 36.6\\ 59400 37.2\\
40700 37.9\\ 44300 37.5\\ 46500 38.0\\ 50000 37.6\\ 52200 37.9\\ 55800 37.4\\ 57900 38.0\\ 61400 37.6\\
38800 38.8\\ 41000 38.3\\ 44600 38.7\\ 46800 38.4\\ 50400 38.9\\ 52500 38.3\\ 56100 38.7\\ 58300 38.5\\
40000 39.6\\ 43600 39.2\\ 45700 39.7\\ 49300 39.1\\ 51500 39.5\\ 55000 39.3\\ 57200 39.7\\ 60800 39.2\\
39400 40.1\\ 41600 40.6\\ 45200 40.0\\ 47300 40.5\\ 50900 40.2\\ 53100 40.6\\ 56600 40.1\\ 58800 40.4\\
40400 41.4\\ 44000 40.9\\ 46100 41.3\\ 49700 40.8\\ 51900 41.4\\ 55400 41.0\\ 57600 41.3\\ 61100 40.9\\
39700 41.8\\ 41900 42.3\\ 45500 41.7\\ 47700 42.2\\ 51200 41.9\\ 53400 42.3\\ 57000 41.8\\ 59100 42.1\\
40800 43.1\\ 44400 42.6\\ 46500 43.0\\ 50100 42.5\\ 52300 43.1\\ 55800 42.7\\ 58000 43.0\\
40300 43.5\\ 42500 43.9\\ 46100 43.4\\ 48300 43.9\\ 51800 43.6\\ 54000 44.0\\ 57600 43.5\\ 59700 43.8\\
41200 44.7\\ 44700 44.3\\ 46900 44.8\\ 50500 44.2\\ 52600 44.7\\ 56200 44.4\\ 58400 44.8\\
40700 45.2\\ 43000 45.7\\ 46500 45.1\\ 48700 45.6\\ 52300 45.3\\ 54400 45.7\\ 58000 45.2\\
41700 46.5\\ 45200 46.0\\ 47400 46.4\\ 50900 46.1\\ 53100 46.6\\ 56700 46.0\\
41300 46.9\\ 43600 47.4\\ 47100 46.8\\ 49300 47.3\\ 52900 47.0\\ 55000 47.5\\ 58600 46.9\\
42400 48.3\\ 45900 47.8\\ 48100 48.2\\ 51700 47.7\\ 53800 48.3\\ 57400 47.9\\
44500 49.2\\ 46800 48.7\\ 50400 49.1\\ 52500 48.6\\ 56100 49.0\\
43100 50.1\\ 46600 49.6\\ 48800 50.0\\ 52400 49.5\\ 54600 50.1\\
};
\addplot[fid, black] coordinates {(0,35.5) (100000,35.5)};
\addplot[fid, mgreen] coordinates {(0,31.0) (100000,31.0)};
\addplot[fid, red] coordinates {(0,26.5) (100000,26.5)};
\addplot[cont, black] coordinates {(36859,34.14)(37420,35.77)(40785,37.12)(46394,38.05)(54246,38.21)(60976,37.40)(64117,35.77)(63219,33.60)(58732,31.97)(50880,31.15)(44150,31.43)(38542,32.51)(36859,34.14)};
\addplot[cont, mgreen] coordinates {(37084,31.43)(39663,33.05)(46394,33.87)(52002,33.87)(58732,33.16)(62322,31.15)(60976,29.25)(55367,27.90)(47515,27.08)(41907,27.35)(37981,28.98)(37084,31.43)};
\addplot[cont, red] coordinates {(36523,26.54)(38542,28.17)(44150,29.15)(50880,29.42)(57611,28.44)(60976,26.54)(59854,24.37)(55367,23.28)(48637,22.85)(41907,23.28)(37420,24.91)(36523,26.54)};
\addplot[sq, black] coordinates {(50000,35.5)};
\addplot[sq, mgreen] coordinates {(50000,31.0)};
\addplot[sq, red] coordinates {(50000,26.5)};
\end{axis}
% ---------------- Panel 5 ----------------
\begin{axis}[panel, at={(270.35pt,62.5pt)},
  xmin=3.56, xmax=26.49, ymin=0.871, ymax=3.147,
  xtick={5,10,15,20,25},
  xticklabels={\R{5},\R{10},\R{15},\R{20},\R{25}},
  ytick={1.0,1.5,2.0,2.5,3.0},
  yticklabels={\R{1.0},\R{1.5},\R{2.0},\R{2.5},\R{3.0}},
  xlabel={$R_{mfp}$ (Mpc)}, ylabel={$f_X$}]
\addplot[dots] table[row sep=\\] {x y\\
13.2 1.95\\ 13.8 2.18\\ 14.3 1.87\\ 14.7 2.26\\ 15.1 2.02\\ 15.6 1.84\\ 16.0 2.21\\ 16.4 1.97\\ 16.9 2.12\\ 17.3 1.89\\ 13.5 2.07\\ 14.0 1.82\\ 14.5 2.13\\ 14.9 1.91\\ 15.4 2.28\\ 15.8 2.06\\ 16.2 1.86\\ 16.7 2.24\\ 17.1 2.01\\ 13.1 2.25\\ 13.7 1.99\\ 14.2 2.31\\ 14.8 2.09\\ 15.3 1.81\\ 15.9 1.95\\ 16.5 2.31\\ 17.0 1.83\\ 17.4 2.15\\ 13.9 2.11\\ 15.0 2.17\\ 16.1 2.04\\ 14.4 1.98\\ 15.7 2.14\\ 16.8 1.94\\ 14.6 2.04\\ 15.5 1.93\\ 16.3 2.12\\ 13.4 1.88\\
10.6 2.03\\ 11.2 2.21\\ 11.7 1.84\\ 12.1 2.35\\ 12.6 1.72\\ 11.5 1.96\\ 12.3 2.09\\ 10.9 1.78\\ 12.8 2.41\\ 11.9 1.65\\ 18.0 2.08\\ 18.5 1.85\\ 19.1 2.27\\ 19.6 1.96\\ 18.3 2.39\\ 18.8 1.73\\ 19.4 2.14\\ 17.8 1.66\\ 18.2 2.22\\ 19.9 1.88\\ 13.3 1.68\\ 14.1 1.62\\ 14.9 1.57\\ 15.7 1.71\\ 16.6 1.59\\ 17.2 1.74\\ 13.6 2.42\\ 14.4 2.47\\ 15.2 2.39\\ 16.0 2.45\\ 16.8 2.41\\ 17.6 2.36\\ 12.4 1.58\\ 17.9 1.55\\ 12.0 2.44\\ 18.6 2.46\\ 13.0 2.16\\ 17.7 1.98\\ 12.7 1.89\\ 18.4 1.93\\
8.1 1.70\\ 8.6 2.12\\ 9.2 1.92\\ 9.6 2.39\\ 9.9 1.61\\ 10.3 2.28\\ 10.1 1.88\\ 9.4 2.15\\ 21.0 2.00\\ 21.7 1.81\\ 22.2 1.88\\ 22.7 1.57\\ 20.5 2.33\\ 20.9 1.63\\ 20.3 1.79\\ 20.7 2.18\\ 22.9 1.55\\ 21.3 2.21\\ 14.2 1.41\\ 14.9 1.36\\ 15.6 1.45\\ 16.4 1.38\\ 17.3 1.34\\ 13.2 1.45\\ 12.1 1.47\\ 18.1 1.43\\ 19.1 1.49\\ 20.1 1.40\\ 21.6 1.40\\ 11.0 1.27\\ 9.1 1.40\\ 12.5 2.63\\ 13.9 2.55\\ 16.1 2.58\\ 17.5 2.53\\ 18.8 2.51\\ 11.4 2.52\\ 16.8 1.50\\ 10.8 1.55\\ 19.4 1.62\\ 15.5 2.55\\ 14.7 2.61\\
14.1 2.03\\ 15.2 2.19\\ 16.2 1.92\\ 15.1 1.89\\ 13.8 2.29\\ 16.6 2.03\\ 14.8 1.75\\ 15.9 1.77\\ 13.6 1.78\\ 16.9 1.79\\ 15.4 2.37\\ 14.5 2.36\\
13.9 2.08\\ 14.3 1.93\\ 14.7 2.17\\ 15.0 1.97\\ 15.4 2.09\\ 15.8 1.88\\ 16.1 2.27\\ 16.5 2.08\\ 13.3 2.01\\ 13.6 2.21\\ 14.0 1.94\\ 14.4 2.23\\ 14.8 1.99\\ 15.2 2.12\\ 15.6 2.02\\ 16.0 1.99\\ 16.4 2.17\\ 16.8 2.07\\ 17.2 2.19\\ 12.9 1.97\\ 12.5 2.12\\ 12.2 1.92\\ 11.8 2.14\\ 11.4 2.06\\ 17.6 2.06\\ 18.0 1.91\\ 18.4 2.13\\ 18.9 2.01\\ 13.5 1.72\\ 14.2 1.76\\ 15.1 1.69\\ 16.2 1.73\\ 17.0 1.65\\ 13.0 1.82\\ 17.6 1.83\\ 13.4 2.33\\ 14.3 2.40\\ 15.3 2.33\\ 16.3 2.37\\ 17.1 2.30\\ 12.6 2.27\\ 18.1 2.31\\ 14.6 1.66\\ 15.9 1.63\\ 12.3 1.77\\ 18.7 1.70\\ 11.0 1.91\\ 19.3 2.06\\ 10.4 2.14\\ 19.8 2.20\\ 14.0 2.14\\ 15.7 2.23\\ 16.7 1.88\\ 13.2 2.15\\ 17.5 2.01\\ 14.9 2.25\\ 15.5 1.78\\ 16.6 2.19\\ 13.7 1.91\\ 14.5 1.86\\ 15.3 2.00\\ 16.1 2.10\\ 17.0 2.25\\ 12.9 2.36\\ 18.2 1.78\\ 14.1 2.48\\ 16.4 2.49\\ 13.1 1.58\\ 17.4 1.52\\ 15.8 1.52\\ 14.5 1.49\\ 11.6 1.71\\ 19.0 1.79\\ 10.2 1.66\\ 20.4 1.95\\ 12.0 2.55\\ 18.3 2.58\\ 15.0 2.43\\ 16.9 2.52\\ 13.3 2.57\\ 11.2 2.32\\ 19.5 2.37\\ 9.7 2.03\\ 20.9 2.24\\ 14.9 1.44\\ 16.3 1.47\\ 13.7 1.51\\ 12.8 1.53\\ 18.5 1.58\\ 17.9 2.43\\ 11.7 2.44\\ 16.2 2.62\\
13.9 1.60\\ 15.3 1.61\\ 16.1 1.56\\ 17.5 1.63\\ 12.9 1.62\\ 12.5 1.70\\ 13.7 1.67\\ 14.8 1.69\\ 15.7 1.66\\ 16.6 1.71\\ 17.8 1.74\\ 19.2 1.68\\
11.8 1.82\\ 13.1 1.79\\ 14.0 1.84\\ 14.9 1.80\\ 16.0 1.83\\ 16.9 1.77\\ 17.9 1.85\\ 18.9 1.81\\ 11.0 1.76\\ 12.0 1.90\\ 13.0 1.93\\ 13.9 1.87\\ 14.6 1.92\\ 15.4 1.88\\ 16.3 1.94\\ 17.2 1.90\\ 18.1 1.86\\ 19.0 1.95\\ 10.3 1.93\\
11.5 2.00\\ 12.4 1.98\\ 13.3 2.04\\ 14.2 1.99\\ 15.0 2.05\\ 15.9 2.02\\ 16.8 1.98\\ 17.7 2.04\\ 18.6 2.00\\ 19.9 2.03\\ 11.9 2.10\\ 12.8 2.07\\ 13.6 2.12\\ 14.5 2.09\\ 15.3 2.14\\ 16.2 2.06\\ 17.1 2.11\\ 18.0 2.15\\ 19.1 2.09\\ 20.6 2.11\\
12.2 2.21\\ 13.2 2.19\\ 14.1 2.23\\ 15.0 2.20\\ 15.9 2.24\\ 16.7 2.18\\ 17.7 2.22\\ 18.7 2.18\\ 10.9 2.18\\ 12.7 2.29\\ 13.7 2.32\\ 14.6 2.28\\ 15.6 2.31\\ 16.6 2.27\\ 17.5 2.33\\ 18.9 2.29\\
13.1 2.39\\ 14.0 2.43\\ 15.6 2.42\\ 16.5 2.38\\ 17.3 2.44\\ 19.2 2.45\\ 13.8 2.50\\ 15.3 2.51\\ 16.9 2.47\\
14.1 1.53\\ 15.1 1.50\\ 16.6 1.54\\ 13.6 1.43\\ 17.0 1.41\\ 15.4 1.39\\ 18.3 1.49\\ 12.2 1.56\\ 16.0 1.33\\ 19.8 1.52\\
13.0 1.64\\ 13.9 1.68\\ 14.7 1.63\\ 15.6 1.69\\ 16.4 1.65\\ 17.3 1.68\\
12.6 1.76\\ 13.4 1.72\\ 14.3 1.77\\ 15.1 1.73\\ 16.0 1.76\\ 16.8 1.72\\ 17.7 1.75\\
12.3 1.80\\ 13.2 1.84\\ 14.0 1.79\\ 14.9 1.83\\ 15.7 1.80\\ 16.6 1.84\\ 17.4 1.79\\ 18.3 1.83\\
12.7 1.92\\ 13.5 1.88\\ 14.4 1.91\\ 15.2 1.87\\ 16.1 1.92\\ 16.9 1.88\\ 17.8 1.91\\ 11.9 1.88\\
12.4 1.96\\ 13.3 2.00\\ 14.1 1.95\\ 15.0 1.99\\ 15.8 1.96\\ 16.7 2.00\\ 17.5 1.95\\ 18.4 1.99\\
12.8 2.08\\ 13.6 2.04\\ 14.5 2.07\\ 15.3 2.03\\ 16.2 2.08\\ 17.0 2.04\\ 17.9 2.07\\ 11.8 2.04\\
12.3 2.12\\ 13.1 2.16\\ 14.0 2.11\\ 14.8 2.15\\ 15.7 2.12\\ 16.5 2.16\\ 17.4 2.11\\ 18.2 2.15\\
12.9 2.24\\ 13.8 2.20\\ 14.6 2.23\\ 15.5 2.19\\ 16.3 2.24\\ 17.2 2.20\\ 18.0 2.23\\
13.3 2.28\\ 14.2 2.32\\ 15.0 2.27\\ 15.9 2.31\\ 16.7 2.28\\ 17.6 2.32\\ 12.5 2.31\\
13.7 2.40\\ 14.5 2.36\\ 15.4 2.39\\ 16.2 2.35\\ 17.1 2.40\\ 12.9 2.37\\
14.1 2.44\\ 15.0 2.48\\ 15.8 2.45\\ 16.6 2.48\\ 13.4 2.47\\
11.2 1.85\\ 11.5 2.15\\ 19.0 2.12\\ 18.9 1.90\\ 10.7 1.98\\ 19.5 1.85\\ 14.3 1.57\\ 16.0 1.60\\ 17.9 1.60\\ 12.0 1.66\\
};
\addplot[fid, red] coordinates {(0,2.6) (30,2.6)};
\addplot[fid, mgreen] coordinates {(0,2.4) (30,2.4)};
\addplot[fid, black] coordinates {(0,2.2) (30,2.2)};
\addplot[cont, black] coordinates {(15.000,2.942)(15.865,2.903)(16.651,2.718)(17.044,2.508)(17.123,2.297)(16.966,2.060)(16.389,1.903)(15.341,1.784)(14.292,1.771)(13.637,1.784)(13.113,1.876)(12.720,2.113)(12.720,2.376)(12.982,2.639)(13.637,2.824)(14.292,2.916)(15.000,2.942)};
\addplot[cont, mgreen] coordinates {(12.772,2.429)(13.113,2.692)(13.768,2.929)(14.817,3.008)(15.865,3.013)(16.651,2.929)(17.123,2.692)(17.175,2.455)(16.913,2.297)(16.520,2.113)(15.865,1.955)(15.079,1.876)(14.292,1.863)(13.375,1.929)(12.851,2.139)(12.772,2.429)};
\addplot[cont, red] coordinates {(12.589,2.218)(12.720,2.482)(13.113,2.771)(13.899,2.955)(15.079,3.034)(16.127,3.055)(17.438,3.034)(17.962,2.929)(18.014,2.824)(17.569,2.639)(16.913,2.455)(16.127,2.297)(15.079,2.087)(14.554,1.981)(14.030,1.934)(13.506,1.934)(12.851,2.008)(12.589,2.218)};
\addplot[sq, red] coordinates {(15,2.6)};
\addplot[sq, mgreen] coordinates {(15,2.4)};
\addplot[sq, black] coordinates {(15,2.2)};
\addplot[only marks, mark=diamond, mark size=1.3pt, red, mark options={line width=0.8pt}] coordinates {(5,2.487) (5,1.237)};
\addplot[only marks, mark=*, mark size=0.6pt, mgreen] coordinates {(4.42,2.718)};
\end{axis}
% ---------------- Panel 6 ----------------
\begin{axis}[panel, at={(488.35pt,62.5pt)},
  xmin=0.04, xmax=2.947, ymin=65.8, ymax=535.9,
  xtick={0.5,1.0,1.5,2.0,2.5},
  xticklabels={\R{0.5},\R{1.0},\R{1.5},\R{2.0},\R{2.5}},
  ytick={100,200,300,400,500},
  yticklabels={\R{100},\R{200},\R{300},\R{400},\R{500}},
  xlabel={$\alpha_X$}, ylabel={$\nu_{min}$ (eV)}]
\addplot[dots] table[row sep=\\] {x y\\
1.27 312\\ 1.33 271\\ 1.38 338\\ 1.42 286\\ 1.47 321\\ 1.51 262\\ 1.56 343\\ 1.60 297\\ 1.64 268\\ 1.69 329\\ 1.73 281\\ 1.78 314\\ 1.82 259\\ 1.29 258\\ 1.35 302\\ 1.40 254\\ 1.45 348\\ 1.49 294\\ 1.54 277\\ 1.58 318\\ 1.62 333\\ 1.67 251\\ 1.71 305\\ 1.76 342\\ 1.80 288\\ 1.84 326\\ 1.31 329\\ 1.37 319\\ 1.44 266\\ 1.52 309\\ 1.57 256\\ 1.63 290\\ 1.70 263\\ 1.75 299\\ 1.83 303\\ 1.26 284\\ 1.48 336\\ 1.59 283\\ 1.66 312\\ 1.41 303\\
0.97 296\\ 1.02 331\\ 1.06 268\\ 1.11 352\\ 1.15 241\\ 1.19 309\\ 1.08 377\\ 1.13 225\\ 1.21 384\\ 1.03 246\\ 1.92 310\\ 1.96 264\\ 2.01 341\\ 2.05 287\\ 2.10 233\\ 1.94 372\\ 1.99 225\\ 2.08 318\\ 2.13 359\\ 1.90 248\\ 1.30 218\\ 1.39 207\\ 1.48 228\\ 1.58 213\\ 1.67 231\\ 1.77 219\\ 1.86 211\\ 1.34 389\\ 1.43 372\\ 1.53 395\\ 1.61 378\\ 1.72 391\\ 1.81 369\\ 1.88 385\\ 1.24 233\\ 1.23 365\\ 1.00 362\\ 2.03 393\\ 1.17 282\\ 1.89 273\\
0.56 246\\ 0.69 385\\ 0.73 273\\ 0.78 192\\ 0.81 333\\ 0.85 296\\ 0.88 243\\ 0.91 368\\ 0.79 168\\ 0.93 208\\ 2.23 318\\ 2.29 267\\ 2.35 221\\ 2.42 289\\ 2.55 280\\ 2.21 381\\ 2.31 347\\ 2.26 199\\ 2.18 242\\ 2.38 253\\ 1.24 455\\ 1.34 412\\ 1.45 433\\ 1.58 440\\ 1.71 443\\ 1.95 423\\ 2.07 410\\ 1.11 418\\ 1.26 167\\ 1.39 158\\ 1.52 145\\ 1.63 150\\ 1.82 175\\ 2.08 159\\ 1.00 178\\ 1.74 187\\ 1.97 194\\ 1.18 192\\ 1.05 405\\ 2.17 196\\
1.46 308\\ 1.55 287\\ 1.61 321\\ 1.36 283\\ 1.72 296\\ 1.50 331\\ 1.43 246\\ 1.68 352\\ 1.28 347\\ 1.87 309\\
1.32 295\\ 1.39 311\\ 1.44 279\\ 1.53 325\\ 1.57 301\\ 1.65 275\\ 1.69 309\\ 1.74 272\\ 1.79 333\\ 1.85 281\\ 1.30 266\\ 1.37 349\\ 1.42 322\\ 1.47 263\\ 1.55 266\\ 1.60 341\\ 1.66 298\\ 1.77 253\\ 1.81 311\\ 1.88 337\\ 1.21 293\\ 1.18 321\\ 1.15 262\\ 1.10 306\\ 1.08 283\\ 1.91 292\\ 1.95 335\\ 1.99 281\\ 2.04 306\\ 2.09 271\\ 1.28 238\\ 1.39 236\\ 1.51 241\\ 1.62 244\\ 1.73 236\\ 1.83 243\\ 1.33 361\\ 1.46 364\\ 1.56 357\\ 1.68 365\\ 1.79 358\\ 1.22 353\\ 1.89 351\\ 1.13 339\\ 1.97 358\\ 1.17 244\\ 1.93 232\\ 1.05 317\\ 2.02 259\\ 1.41 212\\ 1.64 207\\ 1.55 380\\ 1.35 232\\ 1.78 380\\ 1.25 316\\ 1.86 265\\ 1.49 351\\ 1.61 262\\ 1.38 270\\ 1.70 327\\ 1.44 292\\ 1.53 302\\ 1.58 270\\ 1.48 282\\ 1.63 307\\ 1.40 338\\ 1.75 261\\ 1.29 309\\ 1.84 293\\ 1.52 244\\ 1.66 340\\ 1.34 251\\ 0.98 270\\ 2.12 302\\ 0.92 320\\ 2.16 281\\ 1.12 220\\ 1.98 215\\ 1.20 392\\ 1.92 398\\ 1.47 405\\ 1.60 410\\ 1.36 185\\ 1.57 181\\ 1.69 196\\ 0.88 300\\ 2.25 296\\ 1.09 250\\ 2.00 365\\ 1.27 201\\ 1.84 397\\ 0.95 226\\ 2.19 333\\ 1.43 396\\ 1.76 207\\
1.31 231\\ 1.45 228\\ 1.60 233\\ 1.74 229\\ 1.88 226\\ 1.21 226\\ 1.19 252\\ 1.33 248\\ 1.47 254\\ 1.61 250\\ 1.72 247\\ 1.85 254\\ 2.00 249\\
1.12 266\\ 1.25 262\\ 1.38 268\\ 1.52 261\\ 1.66 267\\ 1.79 264\\ 1.93 268\\ 2.06 263\\ 1.06 279\\ 1.20 283\\ 1.33 277\\ 1.46 281\\ 1.59 278\\ 1.73 284\\ 1.86 277\\ 2.00 283\\ 2.14 279\\
1.02 294\\ 1.15 298\\ 1.28 292\\ 1.42 297\\ 1.55 293\\ 1.68 296\\ 1.82 292\\ 1.95 297\\ 2.10 293\\ 1.09 312\\ 1.22 308\\ 1.36 313\\ 1.50 307\\ 1.63 311\\ 1.77 308\\ 1.90 314\\ 2.04 310\\
1.15 326\\ 1.29 322\\ 1.43 327\\ 1.57 323\\ 1.71 328\\ 1.85 324\\ 1.98 327\\ 1.20 342\\ 1.35 338\\ 1.51 343\\ 1.65 337\\ 1.80 341\\ 1.93 339\\
1.27 358\\ 1.41 362\\ 1.63 359\\ 1.75 363\\ 1.88 361\\ 1.36 214\\ 1.52 203\\ 1.68 216\\ 1.22 210\\ 1.83 205\\ 1.40 384\\ 1.58 391\\ 1.69 382\\ 1.26 397\\
0.80 281\\ 0.86 342\\ 2.28 305\\ 2.33 240\\ 0.72 330\\ 2.45 320\\ 1.15 445\\ 1.86 430\\ 1.48 170\\ 1.91 160\\
1.36 228\\ 1.47 232\\ 1.57 227\\ 1.68 233\\ 1.78 229\\
1.25 245\\ 1.35 241\\ 1.46 246\\ 1.56 242\\ 1.66 245\\ 1.77 240\\ 1.87 244\\
1.20 254\\ 1.31 258\\ 1.41 253\\ 1.52 257\\ 1.62 254\\ 1.72 259\\ 1.83 255\\ 1.93 258\\
1.16 271\\ 1.26 267\\ 1.37 272\\ 1.47 266\\ 1.58 271\\ 1.68 268\\ 1.78 272\\ 1.89 267\\
1.14 280\\ 1.24 284\\ 1.34 279\\ 1.45 285\\ 1.55 281\\ 1.65 284\\ 1.76 280\\ 1.86 285\\ 1.96 281\\
1.19 297\\ 1.29 293\\ 1.39 298\\ 1.50 294\\ 1.60 297\\ 1.71 292\\ 1.81 298\\ 1.91 293\\
1.13 306\\ 1.23 310\\ 1.34 305\\ 1.44 311\\ 1.54 306\\ 1.65 310\\ 1.75 305\\ 1.85 311\\ 1.96 307\\
1.18 323\\ 1.28 319\\ 1.39 324\\ 1.49 318\\ 1.59 323\\ 1.70 320\\ 1.80 324\\ 1.90 319\\
1.24 332\\ 1.34 336\\ 1.44 331\\ 1.55 337\\ 1.65 333\\ 1.75 336\\ 1.86 331\\
1.29 349\\ 1.40 345\\ 1.50 350\\ 1.60 346\\ 1.71 349\\ 1.81 345\\
1.35 358\\ 1.46 362\\ 1.56 357\\ 1.66 361\\ 1.77 358\\
1.05 290\\ 2.05 300\\ 1.00 255\\ 2.10 340\\ 1.55 215\\ 1.30 375\\ 1.80 215\\ 1.65 375\\ 0.95 310\\ 2.20 265\\
};
\addplot[fid, red] coordinates {(0,300) (3,300)};
\addplot[fid, mgreen] coordinates {(0,300) (3,300)};
\addplot[fid, black] coordinates {(0,300) (3,300)};
\addplot[cont, red] coordinates {(1.197,250)(1.213,265)(1.267,282)(1.400,307)(1.563,322)(1.673,327)(1.737,322)(1.757,312)(1.737,298)(1.690,282)(1.557,255)(1.427,231)(1.330,226)(1.250,232)(1.205,240)(1.197,250)};
\addplot[cont, mgreen] coordinates {(1.217,247)(1.235,263)(1.283,279)(1.413,305)(1.577,323)(1.690,328)(1.750,325)(1.775,316)(1.750,300)(1.700,285)(1.567,258)(1.440,234)(1.343,227)(1.263,229)(1.225,237)(1.217,247)};
\addplot[cont, black] coordinates {(1.207,246.2)(1.223,262.5)(1.273,278.8)(1.407,306.0)(1.573,325.0)(1.690,330.4)(1.757,326.6)(1.783,316.8)(1.757,300.5)(1.707,284.2)(1.573,257.1)(1.440,232.6)(1.340,224.5)(1.257,227.2)(1.217,235.3)(1.207,246.2)};
\addplot[sq, red] coordinates {(1.5,300)};
\addplot[sq, mgreen] coordinates {(1.5,300)};
\addplot[sq, black] coordinates {(1.5,300)};
\end{axis}
\end{tikzpicture}
\end{document}
